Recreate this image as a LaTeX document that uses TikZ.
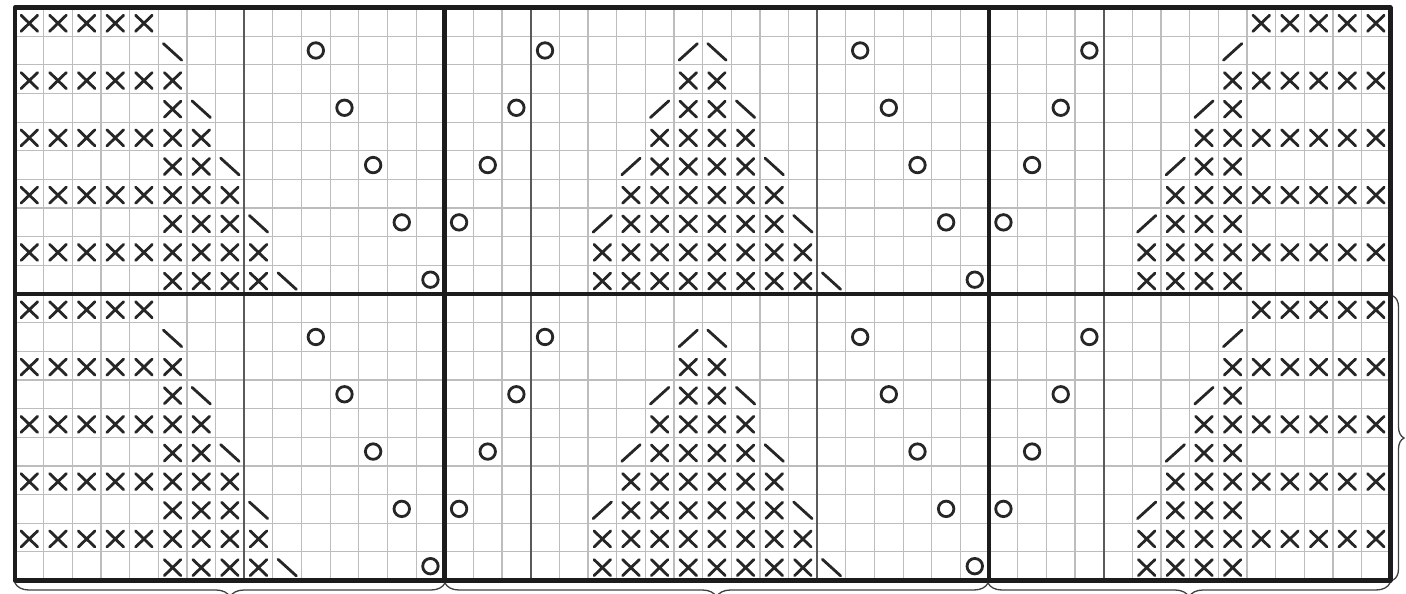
\documentclass[tikz,border=0pt]{standalone}
\usetikzlibrary{decorations.pathreplacing}
\definecolor{symc}{HTML}{262626}
\definecolor{thinc}{HTML}{BDBDBD}
\definecolor{medc}{HTML}{5A5A5A}
\definecolor{thickc}{HTML}{1C1C1C}
\begin{document}
\begin{tikzpicture}[x=1pt,y=-1pt,
  sym/.style={draw=symc, line width=2.8pt, line cap=round},
  gridthin/.style={draw=thinc, line width=1.2pt},
  gridmed/.style={draw=medc, line width=1.8pt},
  gridthick/.style={draw=thickc, line width=4.6pt, line join=round},
  bracestyle/.style={draw=black!75, line width=1.3pt, decorate},
  kx/.pic={\draw[sym] (-0.29,-0.28)--(0.29,0.28) (-0.29,0.28)--(0.29,-0.28);},
  kback/.pic={\draw[sym] (-0.32,-0.29)--(0.32,0.29);},
  kfwd/.pic={\draw[sym] (-0.32,0.29)--(0.32,-0.29);},
  ko/.pic={\draw[sym] (0,0) circle[radius=0.27];}
]
\useasboundingbox (0,0) rectangle (1406,594);
\clip (0,0) rectangle (1406,594);
\fill[white] (0,0) rectangle (1406,594);
\begin{scope}[shift={(15,7.5)}, x=28.65pt, y=-28.65pt]
  % thin grid
  \foreach \i in {0,...,48} \draw[gridthin] (\i,0) -- (\i,20);
  \foreach \j in {0,...,20} \draw[gridthin] (0,\j) -- (48,\j);
  % medium separators
  \foreach \i in {8,18,28,38} \draw[gridmed] (\i,0) -- (\i,20);
  % symbols (two identical halves)
  \foreach \h in {0,10} {
    \foreach \r/\a/\b in {0/0/4, 0/43/47,
                          2/0/5, 2/23/24, 2/42/47,
                          3/5/5, 3/23/24, 3/42/42,
                          4/0/6, 4/22/25, 4/41/47,
                          5/5/6, 5/22/25, 5/41/42,
                          6/0/7, 6/21/26, 6/40/47,
                          7/5/7, 7/21/26, 7/40/42,
                          8/0/8, 8/20/27, 8/39/47,
                          9/5/8, 9/20/27, 9/39/42} {
      \foreach \c in {\a,...,\b} \pic at ({\c+0.5},{\r+\h+0.55}) {kx};
    }
    \foreach \r/\c in {1/5, 1/24, 3/6, 3/25, 5/7, 5/26, 7/8, 7/27, 9/9, 9/28}
      \pic at ({\c+0.5},{\r+\h+0.55}) {kback};
    \foreach \r/\c in {1/23, 1/42, 3/22, 3/41, 5/21, 5/40, 7/20, 7/39}
      \pic at ({\c+0.5},{\r+\h+0.55}) {kfwd};
    \foreach \r/\c in {1/10, 1/18, 1/29, 1/37, 3/11, 3/17, 3/30, 3/36,
                       5/12, 5/16, 5/31, 5/35, 7/13, 7/15, 7/32, 7/34,
                       9/14, 9/33}
      \pic at ({\c+0.5},{\r+\h+0.5}) {ko};
  }
  % thick frame and section lines
  \draw[gridthick] (15,0) -- (15,20);
  \draw[gridthick] (34,0) -- (34,20);
  \draw[gridthick] (0,10) -- (48,10);
  \draw[gridthick] (0,0) rectangle (48,20);
\end{scope}
% braces
\coordinate (b0) at (15,583);
\coordinate (b1) at (445,583);
\coordinate (b2) at (988,583);
\coordinate (b3) at (1390,583);
\coordinate (r0) at (1393,296);
\coordinate (r1) at (1393,580);
\draw[bracestyle, decoration={brace, amplitude=14pt, mirror}] (b0) -- (b1);
\draw[bracestyle, decoration={brace, amplitude=14pt, mirror}] (b1) -- (b2);
\draw[bracestyle, decoration={brace, amplitude=14pt, mirror}] (b2) -- (b3);
\draw[bracestyle, decoration={brace, amplitude=11pt}] (r0) -- (r1);
\end{tikzpicture}
\end{document}
